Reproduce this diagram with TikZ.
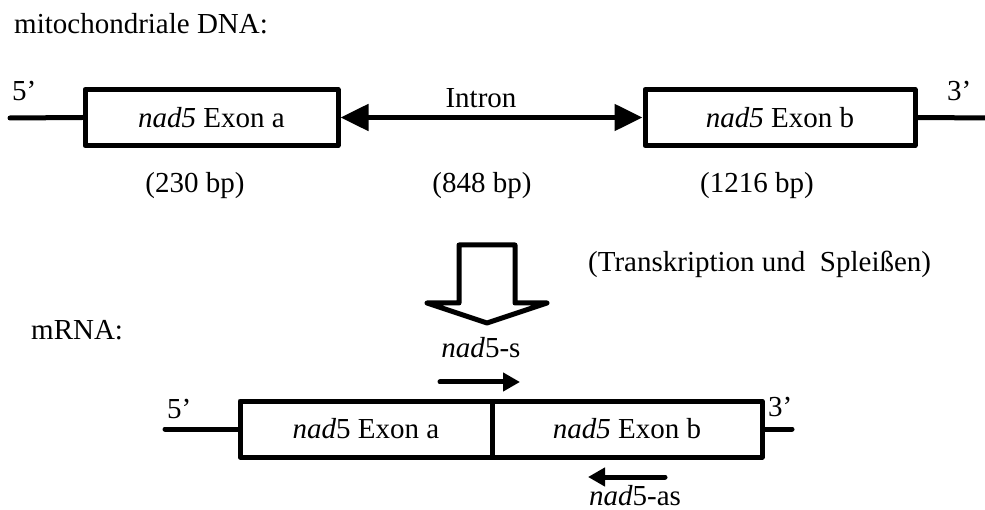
\documentclass[tikz,border=0pt]{standalone}
\usepackage{fontspec}
\setmainfont{Liberation Serif}
\usetikzlibrary{arrows.meta}
\begin{document}
\begin{tikzpicture}[x=1pt,y=-1pt,
  lbl/.style={font=\fontsize{29}{34}\selectfont, inner sep=0pt},
  exon/.style={draw, line width=5pt, line join=round, minimum height=56pt, inner sep=0pt, font=\fontsize{29}{34}\selectfont},
  wire/.style={line width=5pt, line cap=round},
  bigtip/.style={line width=5pt, {Triangle[length=28pt,width=26pt]}-{Triangle[length=28pt,width=26pt]}},
  primer/.style={line width=5pt, line cap=round, -{Triangle[length=17pt,width=18pt]}},
]
\useasboundingbox (0,0) rectangle (985,510);
% title
\node[lbl, anchor=base west] (t1) at (14,34) {mitochondriale DNA:};
% genomic row
\node[exon, minimum width=253pt] (ea) at (211.5,117.5) {\textit{nad5} Exon a};
\node[exon, minimum width=270pt] (eb) at (780,117.5) {\textit{nad5} Exon b};
\coordinate (l5) at (10,118);
\coordinate (r3) at (990,118);
\draw[wire] (l5) -- (ea.west);
\draw[wire] (eb.east) -- (r3);
\draw[bigtip] (ea.east) -- (eb.west);
\node[lbl, anchor=base] (intr) at (481,108) {Intron};
\node[lbl, anchor=base west] (p5a) at (12,101) {5’};
\node[lbl, anchor=base west] (p3a) at (947,101) {3’};
% sizes
\node[lbl, anchor=base] (s1) at (195,193) {(230 bp)};
\node[lbl, anchor=base] (s2) at (482,193) {(848 bp)};
\node[lbl, anchor=base] (s3) at (757,193) {(1216 bp)};
% big arrow
\draw[line width=5pt, line join=round] (459,245) -- (515,245) -- (515,303) -- (547,303) -- (487,323) -- (427,303) -- (459,303) -- cycle;
\node[lbl, anchor=base west] (tr) at (588,272) {(Transkription und\ \ Spleißen)};
% mRNA
\node[lbl, anchor=base west] (t2) at (31,340) {mRNA:};
\node[exon, minimum width=252pt] (ma) at (366,429) {\textit{nad}5 Exon a};
\node[exon, minimum width=270pt] (mb) at (627,429) {\textit{nad5} Exon b};
\coordinate (m5) at (165,429);
\coordinate (m3) at (792,429);
\draw[wire] (m5) -- (ma.west);
\draw[wire] (mb.east) -- (m3);
\node[lbl, anchor=base west] (p5b) at (167,418) {5’};
\node[lbl, anchor=base west] (p3b) at (768,416) {3’};
% primers
\node[lbl, anchor=base] (ps) at (481,358) {\textit{nad}5-s};
\coordinate (ps1) at (440,382);
\coordinate (ps2) at (520,382);
\draw[primer] (ps1) -- (ps2);
\node[lbl, anchor=base] (pas) at (635,505) {\textit{nad}5-as};
\coordinate (pa1) at (665,477);
\coordinate (pa2) at (588,477);
\draw[primer] (pa1) -- (pa2);
\end{tikzpicture}
\end{document}
